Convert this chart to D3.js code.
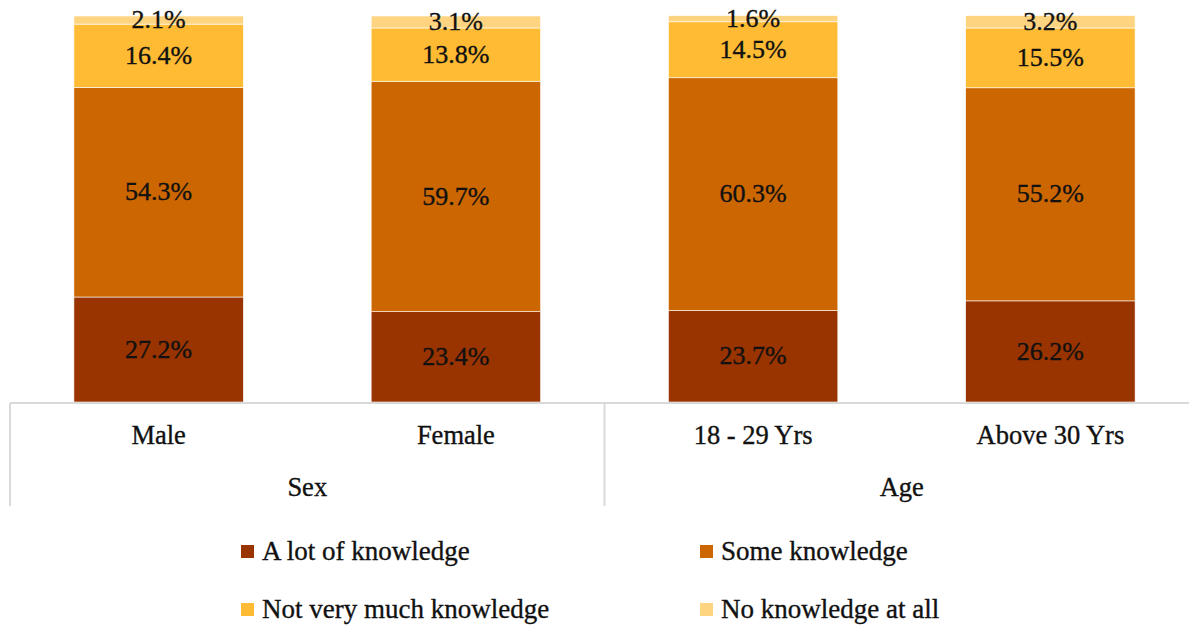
<!DOCTYPE html>
<html>
<head>
<meta charset="utf-8">
<script src="https://cdn.jsdelivr.net/npm/d3@7"></script>
<style>
  body { margin: 0; background: #fff; }
</style>
</head>
<body>
<div id="chart"></div>
<script>
// chart data
const categories = ['Male', 'Female', '18 - 29 Yrs', 'Above 30 Yrs'];
const groups = [
  { name: 'Sex', members: ['Male', 'Female'] },
  { name: 'Age', members: ['18 - 29 Yrs', 'Above 30 Yrs'] }
];
const seriesNames = ['A lot of knowledge', 'Some knowledge', 'Not very much knowledge', 'No knowledge at all'];
const aLotOfKnowledge = [27.2, 23.4, 23.7, 26.2];
const someKnowledge = [54.3, 59.7, 60.3, 55.2];
const notVeryMuch = [16.4, 13.8, 14.5, 15.5];
const noKnowledge = [2.1, 3.1, 1.6, 3.2];
const colors = ['#993300', '#CC6600', '#FFBB33', '#FFD480'];

const width = 1189, height = 626;
const margin = {top: 16, right: -10, bottom: 224, left: 10};
const plotH = height - margin.top - margin.bottom;
const textColor = '#111';

const svg = d3.select('#chart').append('svg')
  .attr('width', width).attr('height', height);

// shared text style
function styleText(sel, size) {
  return sel
    .style('font-family', "'Liberation Serif'")
    .style('font-size', (size || 26.5) + 'px')
    .attr('fill', textColor)
    .attr('stroke', textColor)
    .attr('stroke-width', 0.35);
}

const rows = categories.map((c, i) => ({
  cat: c,
  values: [aLotOfKnowledge[i], someKnowledge[i], notVeryMuch[i], noKnowledge[i]]
}));

const x = d3.scaleBand()
  .domain(categories)
  .range([margin.left, width - margin.right])
  .paddingInner(0.43).paddingOuter(0.215);
const y = d3.scaleLinear().domain([0, 100]).range([margin.top + plotH, margin.top]);

const stack = d3.stack()
  .keys(d3.range(seriesNames.length))
  .value((d, k) => d.values[k]);
const stacked = stack(rows);

const layers = svg.selectAll('.layer')
  .data(stacked)
  .enter().append('g')
  .attr('class', 'layer');

layers.selectAll('rect')
  .data((d, i) => d.map(p => ({p, cat: p.data.cat, k: i})))
  .enter().append('rect')
  .attr('x', d => x(d.cat))
  .attr('width', x.bandwidth())
  .attr('y', d => y(d.p[1]))
  .attr('height', d => y(d.p[0]) - y(d.p[1]))
  .attr('fill', d => colors[d.k])
  .attr('stroke', '#fff')
  .attr('stroke-width', 0.6);

layers.selectAll('text')
  .data((d, i) => d.map(p => ({p, cat: p.data.cat, k: i})))
  .enter().append('text')
  .attr('x', d => x(d.cat) + x.bandwidth() / 2)
  .attr('y', d => (y(d.p[0]) + y(d.p[1])) / 2 + (d.k === 3 ? -1 : -1))
  .attr('dy', '0.35em')
  .attr('text-anchor', 'middle')
  .call(styleText, 26)
  .text(d => d.p.data.values[d.k].toFixed(1) + '%');

// axis with grouped categories
const axisY = y(0) + 1;
const axisBottom = 506;
const step = x.step();
const left = x(categories[0]) - x.paddingOuter() * step;
const axisColor = '#d9d9d9';

svg.append('line')
  .attr('x1', left).attr('x2', width)
  .attr('y1', axisY).attr('y2', axisY)
  .attr('stroke', axisColor).attr('stroke-width', 2);

let start = left;
groups.forEach(g => {
  const gw = g.members.length * step;
  svg.append('line')
    .attr('x1', start).attr('x2', start)
    .attr('y1', axisY).attr('y2', axisBottom)
    .attr('stroke', axisColor).attr('stroke-width', 2);
  svg.append('text')
    .attr('x', start + gw / 2).attr('y', 487)
    .attr('dy', '0.35em').attr('text-anchor', 'middle')
    .call(styleText)
    .text(g.name);
  start += gw;
});

svg.selectAll('.cat-label')
  .data(categories)
  .enter().append('text')
  .attr('class', 'cat-label')
  .attr('x', d => x(d) + x.bandwidth() / 2)
  .attr('y', 435)
  .attr('dy', '0.35em').attr('text-anchor', 'middle')
  .call(styleText)
  .text(d => d);

// legend
const legendPos = [[241, 551], [700, 551], [241, 609], [700, 609]];
const legend = svg.selectAll('.legend')
  .data(seriesNames)
  .enter().append('g')
  .attr('class', 'legend')
  .attr('transform', (d, i) => `translate(${legendPos[i][0]},${legendPos[i][1]})`);

legend.append('rect')
  .attr('x', 0).attr('y', -6)
  .attr('width', 13).attr('height', 13)
  .attr('fill', (d, i) => colors[i]);

legend.append('text')
  .attr('x', 21).attr('y', 0)
  .attr('dy', '0.35em')
  .call(styleText, 27)
  .text(d => d);
</script>
</body>
</html>
